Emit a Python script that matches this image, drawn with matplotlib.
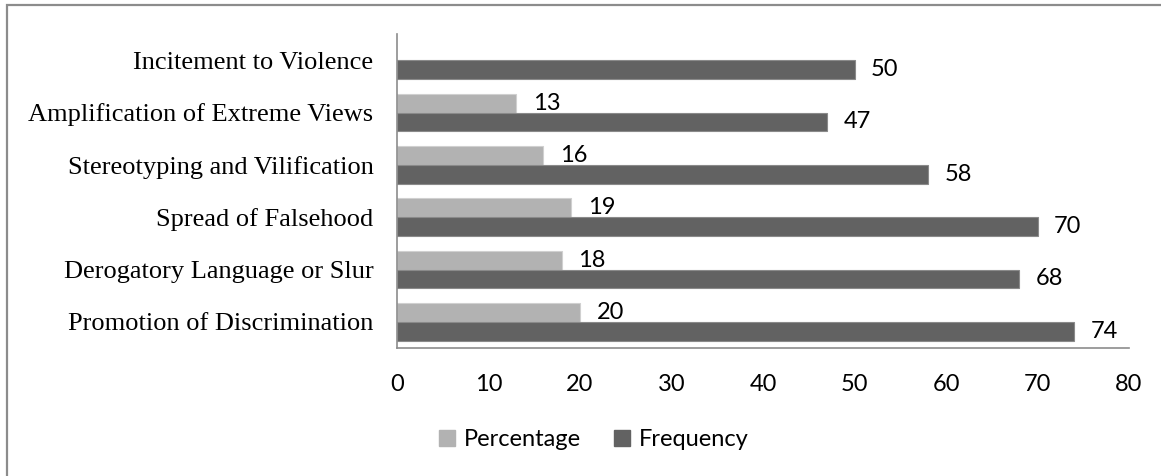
import numpy as np
import matplotlib.pyplot as plt
from matplotlib.patches import Rectangle, Patch

# categories listed bottom to top
categories = ["Promotion of Discrimination", "Derogatory Language or Slur",
              "Spread of Falsehood", "Stereotyping and Vilification",
              "Amplification of Extreme Views", "Incitement to Violence"]
percentage = [20, 18, 19, 16, 13, np.nan]
frequency = [74, 68, 70, 58, 47, 50]
xticks = [0, 10, 20, 30, 40, 50, 60, 70, 80]

light = "#b2b2b2"
dark = "#626262"
sans = ["Lato", "DejaVu Sans"]
serif = ["Liberation Serif", "DejaVu Serif"]

fig = plt.figure(figsize=(11.61, 4.76), dpi=100)
ax = fig.add_axes([397 / 1161, 1 - 348 / 476, (1129 - 397) / 1161, (348 - 34) / 476])

y = np.arange(len(categories))
h = 0.36
ax.barh(y + h / 2, percentage, height=h, color=light, edgecolor="#d0d0d0", linewidth=0.8)
ax.barh(y - h / 2, frequency, height=h, color=dark, edgecolor="#8a8a8a", linewidth=0.8)

# value labels to the right of each bar
for yi, v in zip(y, percentage):
    if not np.isnan(v):
        ax.annotate(f"{v:g}", (v, yi + h / 2), xytext=(12, 0), textcoords="offset points",
                    ha="left", va="center", fontsize=17, family=sans)
for yi, v in zip(y, frequency):
    ax.annotate(f"{v:g}", (v, yi - h / 2), xytext=(12, 0), textcoords="offset points",
                ha="left", va="center", fontsize=17, family=sans)

ax.set_xlim(0, 80)
ax.set_ylim(-0.5, len(categories) - 0.5)
ax.set_xticks(xticks)
ax.set_xticklabels([str(t) for t in xticks], fontsize=17, family=sans)
ax.set_yticks(y)
ax.set_yticklabels(categories, fontsize=19, family=serif)
ax.tick_params(axis="x", length=0, pad=19)
ax.tick_params(axis="y", length=0, pad=17)
for s in ["top", "right"]:
    ax.spines[s].set_visible(False)
for s in ["left", "bottom"]:
    ax.spines[s].set_color("#8c8c8c")
    ax.spines[s].set_linewidth(1.2)

handles = [Patch(color=light, label="Percentage"), Patch(color=dark, label="Frequency")]
fig.legend(handles=handles, loc="center", bbox_to_anchor=(594 / 1161, 1 - 440 / 476),
           ncol=2, frameon=False, prop={"family": sans, "size": 17},
           handlelength=0.65, handleheight=0.65, handletextpad=0.4, columnspacing=1.4)

# chart border
fig.add_artist(Rectangle((7 / 1161, -0.1), 1.2, 1.1 - 5 / 476, transform=fig.transFigure,
                         fill=False, edgecolor="#8c8c8c", linewidth=1.6))

fig.savefig("out.png", dpi=100)
